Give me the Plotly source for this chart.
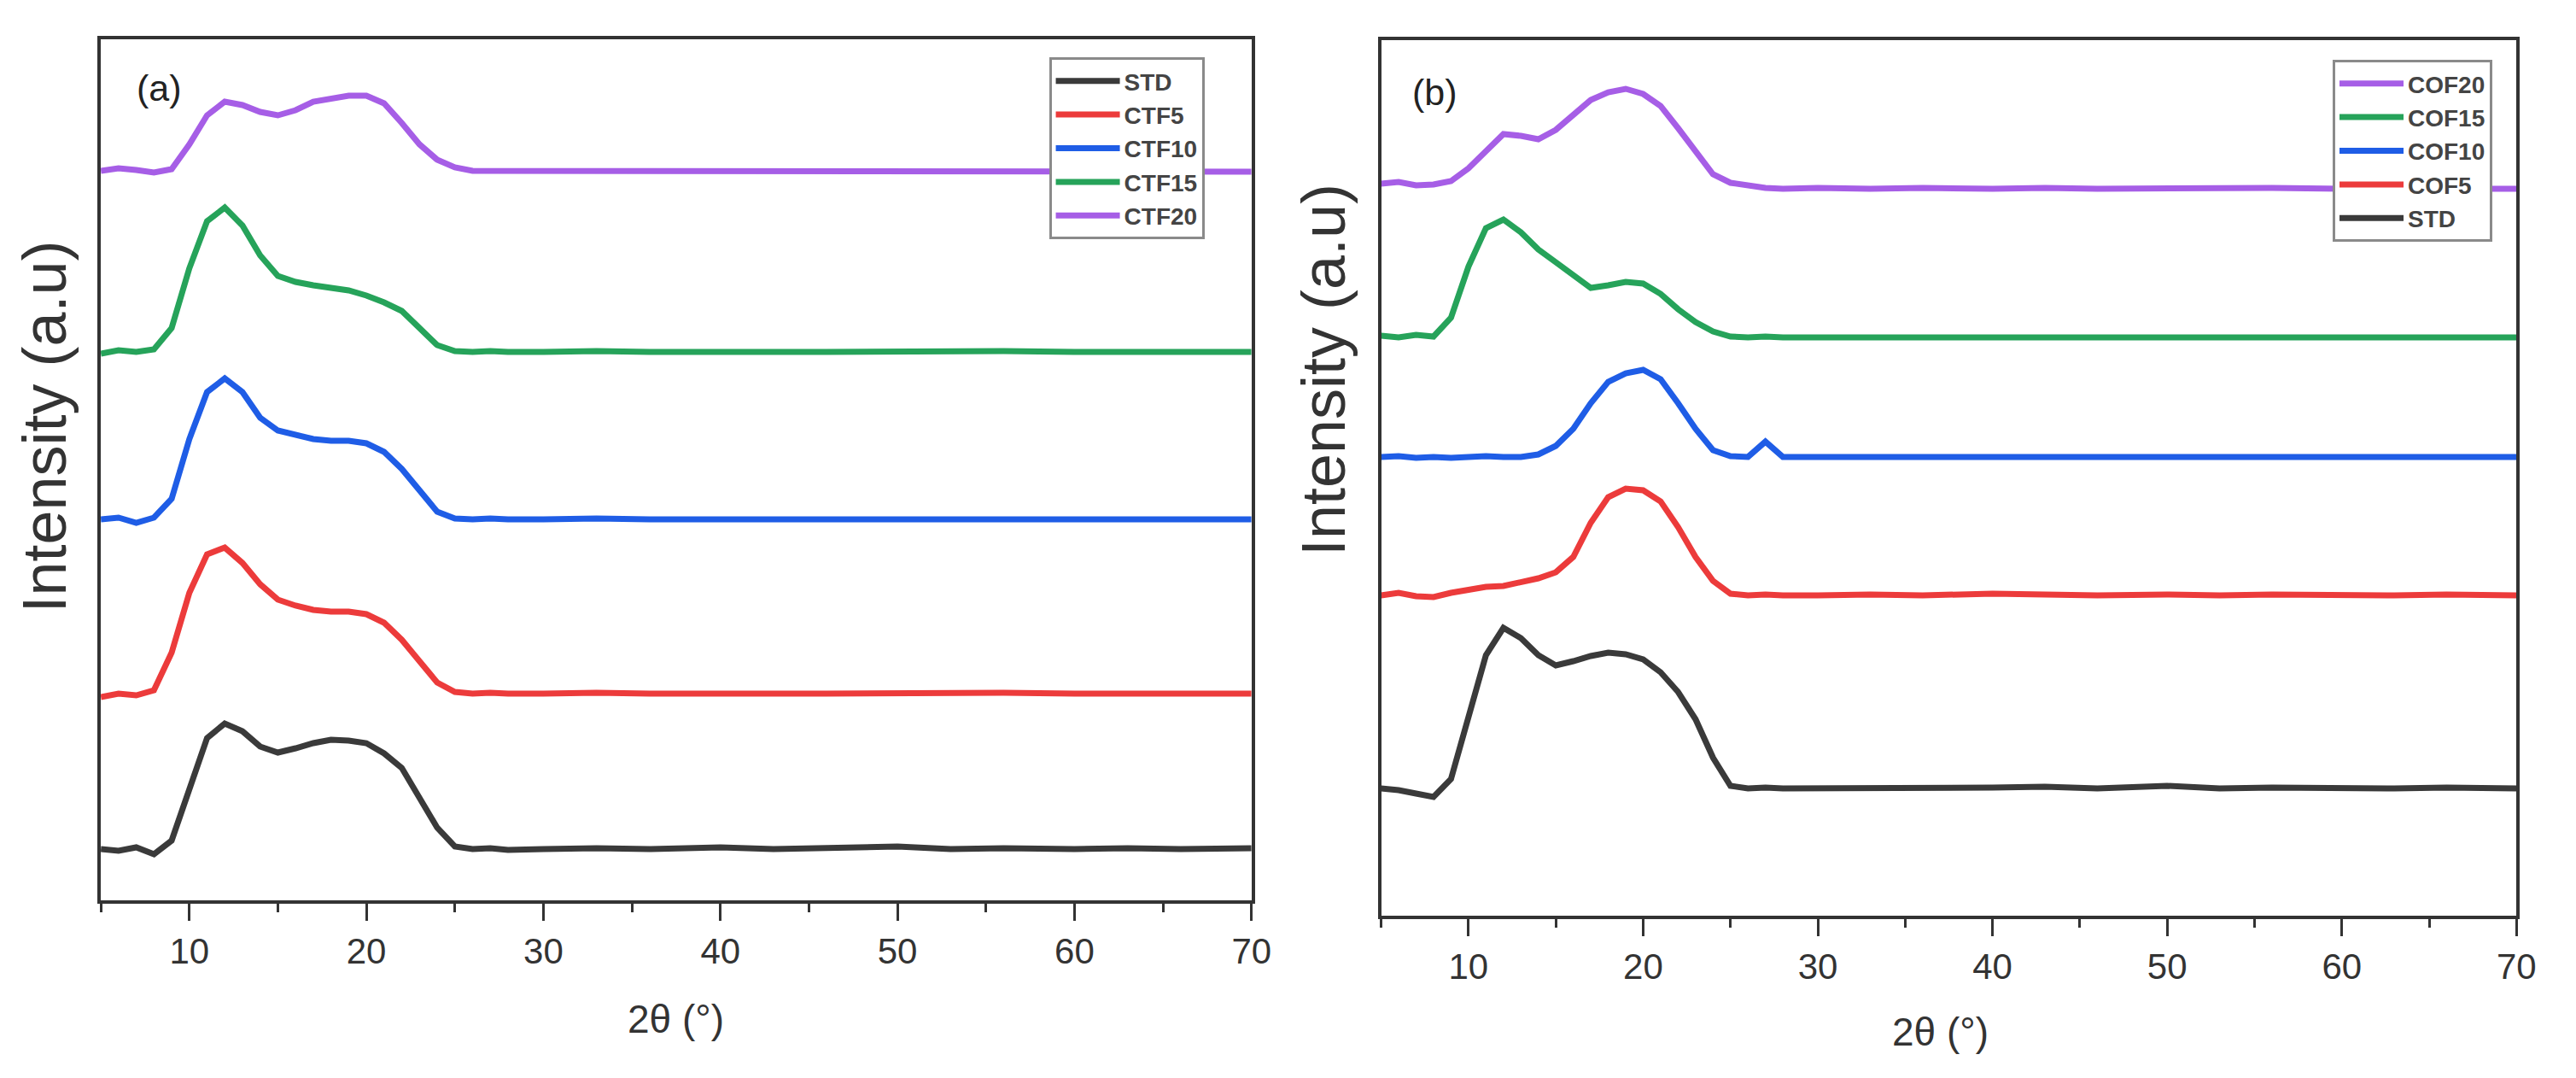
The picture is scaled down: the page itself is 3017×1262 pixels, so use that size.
import plotly.graph_objects as go

# ---------------- data (2θ in degrees, intensity in a.u., offset stacked) ----------------
two_theta = [5, 6, 7, 8, 9, 10, 11, 12, 13, 14, 15, 16, 17, 18, 19, 20, 21, 22, 23, 24, 25, 26,
             27, 28, 30, 33, 36, 40, 43, 46, 50, 53, 56, 60, 63, 66, 70]

# panel (a)
std_a   = [60, 58, 62, 54, 70, 130, 190, 207, 198, 180, 173, 178, 184, 188, 187, 184, 172, 155, 120, 85, 63, 60,
           61, 59, 60, 61, 60, 62, 60, 61, 63, 60, 61, 60, 61, 60, 61]
ctf5_a  = [238, 242, 240, 246, 290, 360, 405, 413, 395, 370, 352, 345, 340, 338, 338, 335, 325, 305, 280, 255, 244, 242,
           243, 242, 242, 243, 242, 243, 242, 242, 243, 242, 243, 242, 242, 243, 242]
ctf10_a = [446, 448, 442, 448, 470, 540, 595, 611, 595, 565, 550, 545, 540, 538, 538, 535, 525, 505, 480, 455, 447, 446,
           447, 446, 446, 447, 446, 447, 446, 446, 447, 446, 446, 447, 446, 446, 446]
ctf15_a = [640, 644, 642, 645, 670, 740, 795, 811, 790, 755, 731, 724, 720, 717, 714, 708, 700, 690, 670, 650, 643, 642,
           643, 642, 642, 643, 642, 643, 642, 642, 643, 642, 643, 642, 642, 643, 642]
ctf20_a = [854, 857, 855, 852, 856, 885, 919, 935, 931, 923, 919, 925, 935, 939, 942, 942, 933, 910, 885, 867, 858, 854,
           854, 853, 853, 854, 853, 854, 853, 853, 854, 853, 853, 854, 853, 853, 853]

# panel (b)
std_b   = [149, 147, 143, 139, 160, 230, 305, 337, 325, 305, 293, 298, 304, 308, 306, 300, 285, 262, 230, 185, 152, 149,
           150, 149, 149, 150, 149, 150, 151, 149, 152, 149, 150, 149, 149, 150, 149]
cof5_b  = [375, 378, 374, 373, 378, 382, 385, 386, 390, 395, 402, 420, 460, 490, 500, 498, 485, 455, 420, 392, 377, 375,
           376, 375, 375, 376, 375, 377, 376, 375, 376, 375, 376, 375, 375, 376, 375]
cof10_b = [537, 538, 536, 537, 536, 537, 538, 537, 537, 540, 550, 570, 600, 625, 635, 639, 628, 600, 570, 545, 538, 537,
           555, 537, 537, 538, 537, 538, 537, 537, 538, 537, 537, 538, 537, 537, 537]
cof15_b = [679, 677, 680, 678, 700, 760, 805, 815, 800, 780, 765, 750, 735, 738, 742, 740, 728, 710, 695, 684, 678, 677,
           678, 677, 677, 678, 677, 678, 677, 677, 678, 677, 677, 678, 677, 677, 677]
cof20_b = [857, 859, 855, 856, 860, 875, 895, 915, 913, 909, 920, 937, 955, 964, 968, 962, 948, 922, 895, 868, 858, 855,
           852, 851, 852, 851, 852, 851, 852, 851, 852, 851, 852, 851, 852, 851, 851]

names_a = ["STD", "CTF5", "CTF10", "CTF15", "CTF20"]
series_a = [std_a, ctf5_a, ctf10_a, ctf15_a, ctf20_a]
names_b = ["COF20", "COF15", "COF10", "COF5", "STD"]
series_b = [cof20_b, cof15_b, cof10_b, cof5_b, std_b]

x_ticks = [10, 20, 30, 40, 50, 60, 70]

# ---------------- styling ----------------
colors_a = ["#3a3a3a", "#ec3b3b", "#1f5de6", "#26a35a", "#a65ee6"]
colors_b = ["#a65ee6", "#26a35a", "#1f5de6", "#ec3b3b", "#3a3a3a"]
W, H = 3017, 1262
FONT = "Liberation Sans, Arial, sans-serif"

fig = go.Figure()
for nm, ys, c in zip(names_a, series_a, colors_a):
    fig.add_trace(go.Scatter(x=two_theta, y=ys, mode="lines", name=nm,
                             line=dict(color=c, width=7), xaxis="x", yaxis="y", legend="legend"))
for nm, ys, c in zip(names_b, series_b, colors_b):
    fig.add_trace(go.Scatter(x=two_theta, y=ys, mode="lines", name=nm,
                             line=dict(color=c, width=7), xaxis="x2", yaxis="y2", legend="legend2"))

def px_x(p):
    return p / W

def px_y(p):
    return 1 - p / H

axis_common = dict(showline=True, linecolor="#333333", linewidth=4, mirror=True,
                   showgrid=False, zeroline=False)
xcommon = dict(axis_common, range=[5, 70], tickvals=x_ticks, ticks="outside", ticklen=20, tickwidth=3,
               tickcolor="#333333", tickfont=dict(family=FONT, size=42, color="#333333"),
               minor=dict(dtick=5, tick0=5, ticks="outside", ticklen=10, tickwidth=3, tickcolor="#333333"))
ycommon = dict(axis_common, showticklabels=False, ticks="")

legend_common = dict(xanchor="left", yanchor="top", bgcolor="white", bordercolor="#8a8a8a", borderwidth=3,
                     font=dict(family=FONT, size=28, color="#444444", weight="bold"),
                     itemwidth=75, tracegroupgap=0)

fig.update_layout(
    width=W, height=H, margin=dict(l=0, r=0, t=0, b=0),
    paper_bgcolor="white", plot_bgcolor="white",
    xaxis=dict(xcommon, domain=[px_x(119), px_x(1477)], anchor="y"),
    yaxis=dict(ycommon, domain=[px_y(1054), px_y(46)], range=[0, 1008], anchor="x"),
    xaxis2=dict(xcommon, domain=[px_x(1630), px_x(2970)], anchor="y2"),
    yaxis2=dict(ycommon, domain=[px_y(1072), px_y(47)], range=[0, 1025], anchor="x2"),
    legend=dict(legend_common, x=px_x(1238), y=px_y(67)),
    legend2=dict(legend_common, x=px_x(2753), y=px_y(70)),
    showlegend=True,
)

ann_font = dict(family=FONT, size=43, color="#222222")
title_font = dict(family=FONT, size=46, color="#333333")
ytitle_font = dict(family=FONT, size=72, color="#333333")

def note(text, x, y, font, angle=0):
    fig.add_annotation(text=text, x=px_x(x), y=px_y(y), xref="paper", yref="paper",
                       xanchor="center", yanchor="middle", showarrow=False,
                       textangle=angle, font=font)

note("(a)", 188, 103, ann_font)
note("(b)", 1693, 108, ann_font)
note("2θ (°)", 798, 1193, title_font)
note("2θ (°)", 2290, 1208, title_font)
note("Intensity (a.u)", 52, 500, ytitle_font, -90)
note("Intensity (a.u)", 1562, 433, ytitle_font, -90)

fig.write_html("out.html")
